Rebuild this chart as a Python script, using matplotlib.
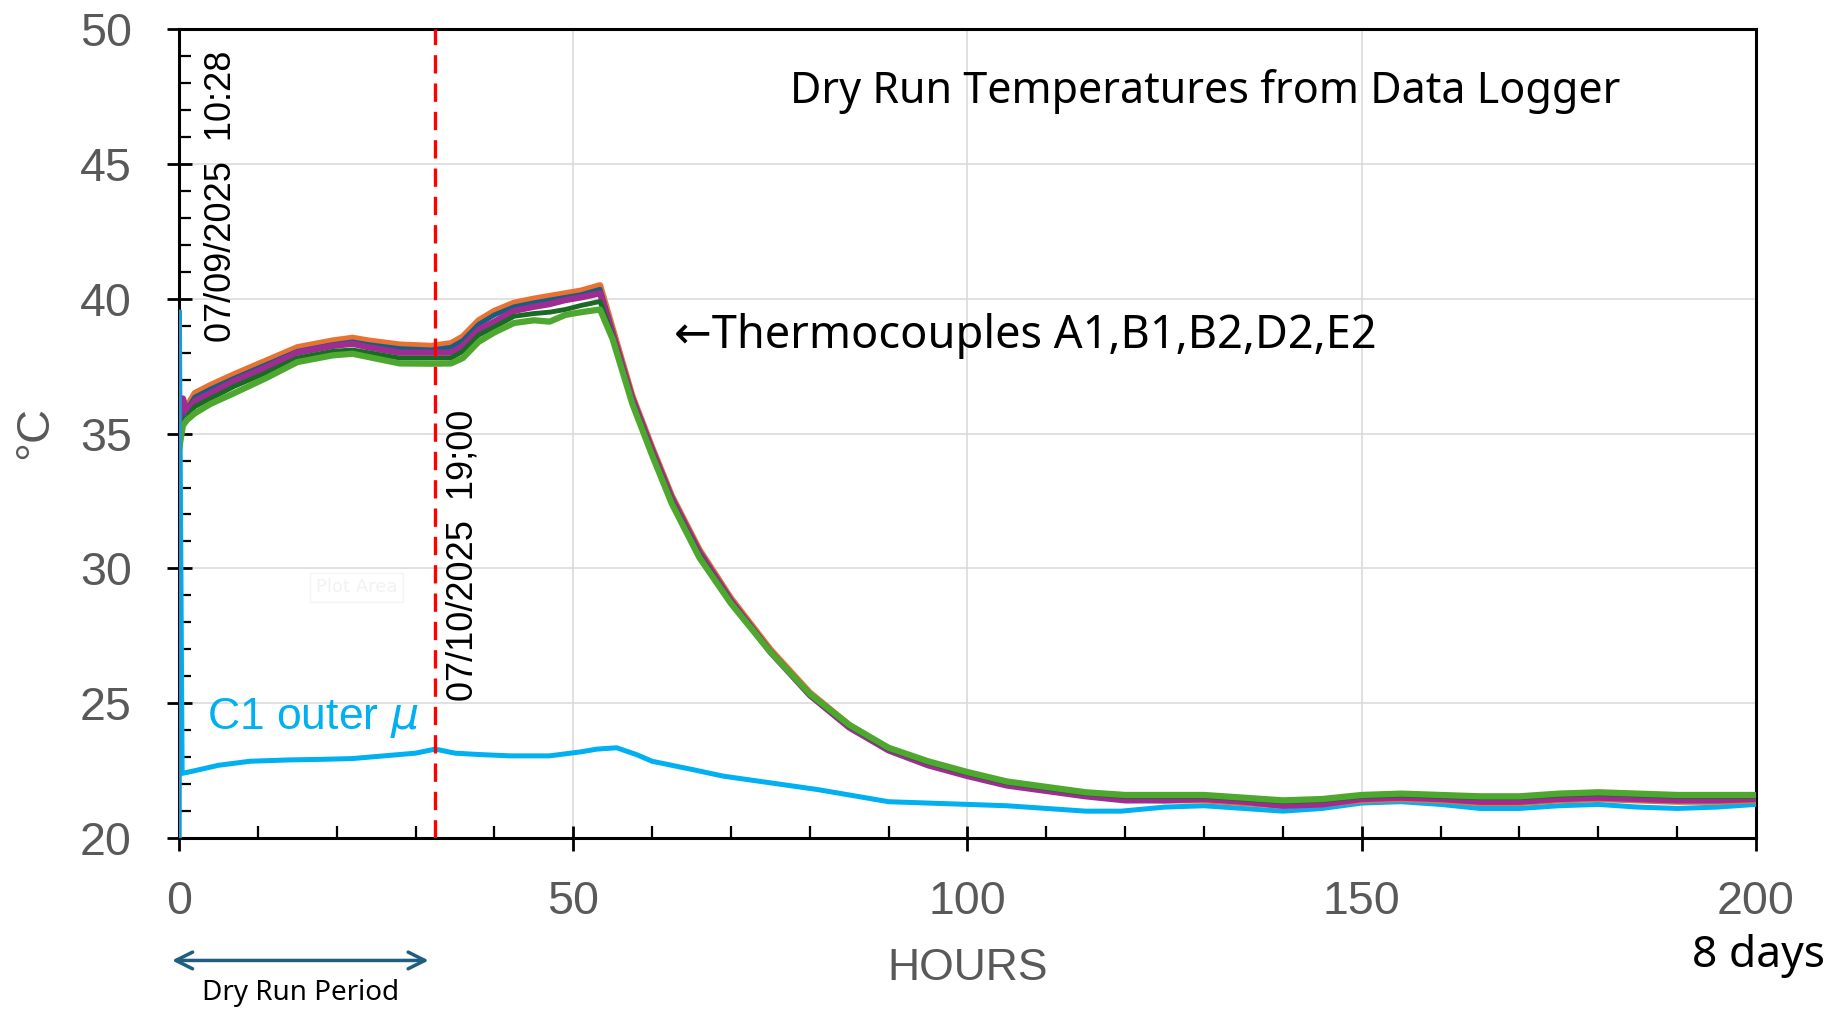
import matplotlib
matplotlib.use('Agg')
import matplotlib.pyplot as plt
from matplotlib.ticker import MultipleLocator

# hours since start, shared by the thermocouple traces
hours = [0, 0.5, 1, 2, 4, 7, 11, 15, 19.5, 22, 24, 28, 32, 34.5, 36, 38, 40, 42.5,
         45, 47, 49, 51, 53.4, 55, 57.5, 60, 62.5, 66, 70, 75, 80, 85, 90, 95, 100,
         105, 110, 115, 120, 125, 130, 135, 140, 145, 150, 155, 160, 165, 170, 175,
         180, 185, 190, 195, 200]

t_orange = [35.4, 35.8, 36.0, 36.5, 36.8, 37.2, 37.7, 38.2, 38.45, 38.55, 38.45, 38.3,
            38.25, 38.35, 38.6, 39.2, 39.55, 39.85, 40.0, 40.1, 40.2, 40.3, 40.5, 38.9,
            36.4, 34.5, 32.7, 30.7, 28.9, 27.0, 25.4, 24.2, 23.3, 22.75, 22.35, 22.0,
            21.8, 21.6, 21.45, 21.4, 21.4, 21.3, 21.2, 21.25, 21.4, 21.45, 21.4, 21.3,
            21.3, 21.4, 21.45, 21.4, 21.35, 21.35, 21.4]
t_navy = [35.3, 35.7, 35.9, 36.35, 36.65, 37.05, 37.55, 38.05, 38.3, 38.4, 38.3, 38.15,
          38.1, 38.2, 38.45, 39.05, 39.4, 39.7, 39.85, 39.95, 40.05, 40.15, 40.35, 38.8,
          36.35, 34.45, 32.65, 30.65, 28.85, 26.95, 25.35, 24.15, 23.3, 22.75, 22.35,
          22.0, 21.8, 21.6, 21.45, 21.45, 21.45, 21.35, 21.25, 21.3, 21.45, 21.5, 21.45,
          21.35, 21.35, 21.45, 21.5, 21.45, 21.4, 21.4, 21.45]
t_purple = [35.5, 36.3, 35.8, 36.2, 36.5, 36.95, 37.45, 38.0, 38.25, 38.33, 38.2, 38.0,
            38.0, 38.0, 38.25, 38.85, 39.15, 39.55, 39.7, 39.8, 39.95, 40.05, 40.2, 38.7,
            36.3, 34.4, 32.6, 30.6, 28.8, 26.9, 25.3, 24.1, 23.25, 22.7, 22.3, 21.95,
            21.75, 21.55, 21.4, 21.4, 21.45, 21.35, 21.2, 21.25, 21.45, 21.5, 21.45,
            21.35, 21.35, 21.45, 21.5, 21.45, 21.4, 21.4, 21.45]
t_dkgreen = [35.0, 35.4, 35.6, 36.0, 36.3, 36.75, 37.25, 37.8, 38.05, 38.1, 38.0, 37.8,
             37.8, 37.8, 38.05, 38.65, 38.95, 39.35, 39.45, 39.5, 39.6, 39.75, 39.9, 38.6,
             36.2, 34.3, 32.5, 30.5, 28.75, 26.9, 25.3, 24.15, 23.3, 22.8, 22.4, 22.05,
             21.85, 21.65, 21.55, 21.55, 21.55, 21.45, 21.35, 21.4, 21.55, 21.6, 21.55,
             21.5, 21.5, 21.6, 21.65, 21.6, 21.55, 21.55, 21.55]
t_green = [34.4, 35.3, 35.5, 35.75, 36.1, 36.5, 37.05, 37.65, 37.9, 37.96, 37.84, 37.6,
           37.59, 37.6, 37.8, 38.4, 38.75, 39.1, 39.2, 39.15, 39.4, 39.5, 39.6, 38.5,
           36.1, 34.2, 32.4, 30.4, 28.7, 26.9, 25.35, 24.2, 23.35, 22.85, 22.45, 22.1,
           21.9, 21.7, 21.6, 21.6, 21.6, 21.5, 21.4, 21.45, 21.6, 21.65, 21.6, 21.55,
           21.55, 21.65, 21.7, 21.65, 21.6, 21.6, 21.6]

# C1 outer probe has its own sampling points
hours_c1 = [0, 0.05, 0.4, 2, 5, 9, 14, 18, 22, 26, 30, 32.5, 35, 38, 42, 47, 51, 53,
            55.5, 58, 60, 65, 69, 75, 81, 85, 90, 95, 100, 105, 110, 115, 119.5, 125,
            130, 135, 140, 145, 150, 155, 160, 165, 170, 175, 180, 185, 190, 195, 200]
t_c1 = [20.0, 39.5, 22.4, 22.5, 22.7, 22.85, 22.9, 22.92, 22.95, 23.05, 23.15, 23.3,
        23.15, 23.1, 23.05, 23.05, 23.2, 23.3, 23.35, 23.1, 22.85, 22.55, 22.3, 22.05,
        21.8, 21.6, 21.35, 21.3, 21.25, 21.2, 21.1, 21.0, 21.0, 21.15, 21.2, 21.1, 21.0,
        21.1, 21.3, 21.35, 21.25, 21.1, 21.1, 21.2, 21.25, 21.15, 21.1, 21.15, 21.25]

dry_run_end = 32.53  # 07/09 10:28 -> 07/10 19:00

gray = '#595959'
fig = plt.figure(figsize=(18.32, 10.11), dpi=100)
ax = fig.add_axes([0.0977, 0.171, 0.8608, 0.8003])

ax.plot(hours_c1, t_c1, color='#00B0F0', lw=3.6, zorder=3)
ax.plot(hours, t_orange, color='#E97132', lw=4.5, zorder=4)
ax.plot(hours, t_navy, color='#156082', lw=3.5, zorder=4)
ax.plot(hours, t_purple, color='#A02B93', lw=4.5, zorder=4)
ax.plot(hours, t_dkgreen, color='#196B24', lw=3.5, zorder=4)
ax.plot(hours, t_green, color='#4EA72E', lw=4.5, zorder=4)
ax.plot([hours_c1[0], hours_c1[1]], [t_c1[0], t_c1[1]], color='#1E9BD7', lw=3.6, zorder=5)

ax.axvline(dry_run_end, color='#FF0000', lw=2.4, dashes=(5.5, 3.0), zorder=6)

ax.set_xlim(0, 200)
ax.set_ylim(20, 50)
ax.xaxis.set_major_locator(MultipleLocator(50))
ax.xaxis.set_minor_locator(MultipleLocator(10))
ax.yaxis.set_major_locator(MultipleLocator(5))
ax.yaxis.set_minor_locator(MultipleLocator(1))
ax.grid(True, which='major', color='#D9D9D9', lw=1.1, zorder=0)
ax.set_axisbelow(True)
for s in ax.spines.values():
    s.set_linewidth(2.2)
    s.set_color('black')
ax.tick_params(which='major', direction='inout', length=18, width=2, color='black',
               labelsize=33.5, labelcolor=gray, pad=25)
ax.tick_params(axis='x', which='major', pad=21)
ax.tick_params(which='minor', direction='in', length=8.5, width=1.6, color='black')
for lab in ax.get_xticklabels() + ax.get_yticklabels():
    lab.set_family('Liberation Sans')

# axis titles placed where the reference has them
fig.text(0.528, 0.0425, 'HOURS', fontsize=32, color=gray, family='Liberation Sans',
         ha='center', va='center')
fig.text(0.019, 0.572, '°C', fontsize=34, color=gray, family='Liberation Sans',
         rotation=90, ha='center', va='center')

ax.text(130.2, 47.7, 'Dry Run Temperatures from Data Logger', fontsize=31,
        family='Noto Sans', ha='center', va='center', color='black')
ax.text(62.8, 38.6, '←Thermocouples A1,B1,B2,D2,E2', fontsize=32.5,
        family=['Noto Sans', 'DejaVu Sans'], ha='left', va='center', color='black')
ax.text(3.5, 24.45, 'C1 outer $\\mu$', fontsize=32, family='Liberation Sans',
        ha='left', va='center', color='#00B0F0')
ax.text(5.4, 43.8, '07/09/2025  10:28', rotation=90, fontsize=26,
        family='Liberation Sans', ha='center', va='center', color='black')
ax.text(36.0, 30.5, '07/10/2025  19;00', rotation=90, fontsize=26,
        family='Liberation Sans', ha='center', va='center', color='black')
ax.text(22.5, 29.3, 'Plot Area', fontsize=13, color='#F2F2F2', ha='center', va='center',
        bbox=dict(boxstyle='square,pad=0.3', fc='white', ec='#F4F4F4', lw=1))

fig.text(0.96, 0.054, '8 days', fontsize=32, family='Noto Sans', ha='center', va='center')
fig.text(0.164, 0.018, 'Dry Run Period', fontsize=20, family='Noto Sans',
         ha='center', va='center')
ax.annotate('', xy=(0.0939, 0.05), xytext=(0.234, 0.05), xycoords='figure fraction',
            textcoords='figure fraction',
            arrowprops=dict(arrowstyle='<->', color='#1F5E7E', lw=2.5, mutation_scale=30,
                            shrinkA=0, shrinkB=0))

fig.savefig('out.png', dpi=100)
